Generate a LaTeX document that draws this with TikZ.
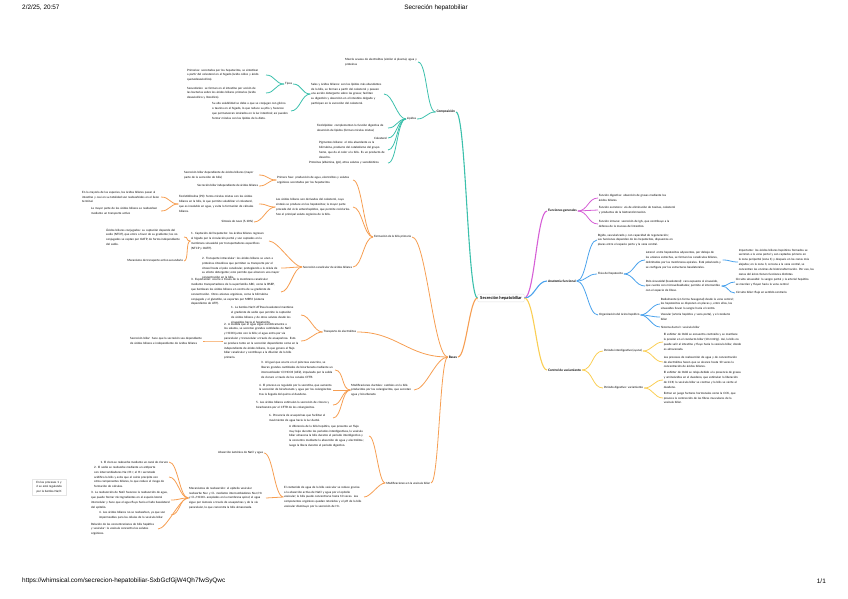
\documentclass[tikz,border=0pt]{standalone}
\usepackage{fontspec}
\setmainfont{Lato}
\newfontfamily\hdrfont{Liberation Sans}
\usetikzlibrary{calc}
\hyphenpenalty=10000
\exhyphenpenalty=10000
\definecolor{cTeal}{RGB}{60,192,172}
\definecolor{cOra}{RGB}{246,158,82}
\definecolor{cMag}{RGB}{214,96,214}
\definecolor{cBlu}{RGB}{74,162,236}
\definecolor{cYel}{RGB}{250,206,84}
\newcommand\lk[4][8]{\draw[#2] (#3.west) .. controls ($(#3.west)+(-#1,0)$) and ($(#4.east)+(#1,0)$) .. (#4.east);}
\newcommand\rk[4][8]{\draw[#2] (#3.east) .. controls ($(#3.east)+(#1,0)$) and ($(#4.west)+(-#1,0)$) .. (#4.west);}
\tikzset{
  tx/.style={font={\fontsize{2.9}{4.8}\selectfont}, align=left, text width=#1, inner sep=0.6pt},
  lb/.style={font={\fontsize{2.9}{4}\selectfont}, inner sep=0.8pt},
  lone/.style={font={\bfseries\fontsize{3.2}{4}\selectfont}, inner sep=0.8pt},
  ctr/.style={font={\bfseries\fontsize{4.2}{5}\selectfont}, draw=black!12, fill=white, rounded corners=1pt, inner xsep=2.5pt, inner ysep=2pt},
  hdr/.style={font={\hdrfont\fontsize{6.4}{7.5}\selectfont}, inner sep=0pt},
  note/.style={font={\fontsize{2.9}{4.8}\selectfont}, align=center, text width=#1, draw=black!10, inner sep=2pt},
  lnT/.style={cTeal, line width=0.8pt},
  lnO/.style={cOra, line width=0.8pt},
  lnM/.style={cMag, line width=0.8pt},
  lnB/.style={cBlu, line width=0.8pt},
  lnY/.style={cYel, line width=0.8pt},
  main/.style={line width=1.1pt}
}
\begin{document}
\begin{tikzpicture}[x=1pt,y=-1pt]
\useasboundingbox (0,0) rectangle (848,599);
% header / footer
\node[hdr, anchor=west] (hdate) at (22,8) {2/2/25, 20:57};
\node[hdr] (htitle) at (436,8) {Secreción hepatobiliar};
\node[hdr, anchor=west] (furl) at (22,581) {https://whimsical.com/secrecion-hepatobiliar-SxbGcfGjW4Qh7fwSyQwc};
\node[hdr, anchor=east] (fpage) at (826,581) {1/1};

% center
\node[ctr] (cen) at (501,298) {Secreción hepatobiliar};

% ---------- Composicion (teal)
\node[lone, anchor=east] (comp) at (456,112) {Composición};
\node[tx=72pt, anchor=east] (mez) at (418,62) {Mezcla acuosa de electrolitos (similar al plasma), agua y proteínas};
\node[lb, anchor=east] (lip) at (417,119) {Lípidos};
\node[tx=72pt, anchor=east] (sal) at (384,94) {Sales y ácidos biliares: son los lípidos más abundantes de la bilis, se forman a partir del colesterol y poseen una acción detergente sobre las grasas; facilitan su digestión y absorción en el intestino delgado y participan en la excreción del colesterol.};
\node[lb, anchor=east] (tip) at (293,84) {Tipos};
\node[tx=78pt, anchor=east] (pri) at (266,75) {Primarios: secretados por los hepatocitos, se sintetizan a partir del colesterol en el hígado (ácido cólico y ácido quenodesoxicólico).};
\node[tx=78pt, anchor=east] (secu) at (266,93) {Secundarios: se forman en el intestino por acción de las bacterias sobre los ácidos biliares primarios (ácido desoxicólico y litocólico).};
\node[tx=78pt, anchor=east] (sua) at (291,111) {Su alta solubilidad se debe a que se conjugan con glicina o taurina en el hígado, lo que reduce su pKa y favorece que permanezcan ionizados en la luz intestinal; así pueden formar micelas con los lípidos de la dieta.};
\node[tx=70pt, anchor=east] (fos) at (388,128) {Fosfolípidos: complementan la función digestiva de absorción de lípidos (forman micelas mixtas)};
\node[lb, anchor=east] (col) at (388,138) {Colesterol};
\node[tx=68pt, anchor=east] (pig) at (388,150) {Pigmentos biliares: el más abundante es la bilirrubina, producto del catabolismo del grupo hemo, que da el color a la bilis. Es un producto de desecho.};
\node[tx=78pt, anchor=east] (pro) at (388,163) {Proteínas (albúmina, IgA), otros solutos y xenobióticos};

\lk[10]{lnT,main}{cen}{comp}
\lk[9]{lnT}{comp}{mez}
\lk[9]{lnT}{comp}{lip}
\lk[9]{lnT}{lip}{sal}
\lk[9]{lnT}{lip}{fos}
\lk[9]{lnT}{lip}{col}
\lk[9]{lnT}{lip}{pig}
\lk[9]{lnT}{lip}{pro}
\lk[9]{lnT}{sal}{tip}
\lk[9]{lnT}{sal}{sua}
\lk[9]{lnT}{tip}{pri}
\lk[9]{lnT}{tip}{secu}

% ---------- Bases (orange)
\node[lone, anchor=east] (bas) at (458,357) {Bases};
\node[lb, anchor=east] (form) at (412,237) {Formación de la bilis primaria};
\node[tx=75pt, anchor=east] (pf) at (353,180) {Primera fase: producción de agua, electrolitos y solutos orgánicos secretados por los hepatocitos};
\node[tx=74pt, anchor=east] (sdep) at (259,175) {Secreción biliar dependiente de ácidos biliares (mayor parte de la secreción de bilis)};
\node[lb, anchor=east] (sind) at (259,186) {Secreción biliar independiente de ácidos biliares};
\node[tx=76pt, anchor=east] (lab) at (353,207) {Los ácidos biliares son derivados del colesterol, cuya síntesis se produce en los hepatocitos; la mayor parte procede del ciclo enterohepático, que permite reciclarlos. Son el principal soluto orgánico de la bilis.};
\node[tx=79pt, anchor=east] (fpc) at (259,204) {Fosfatidilcolina (PC): forma micelas mixtas con los ácidos biliares en la bilis, lo que permite solubilizar el colesterol, que es insoluble en agua, y evita la formación de cálculos biliares.};
\node[tx=78pt, anchor=east] (may) at (161,197) {En la mayoría de las especies, los ácidos biliares pasan al intestino y casi en su totalidad son reabsorbidos en el íleon terminal.};
\node[tx=69pt, anchor=east] (mpa) at (161,211) {La mayor parte de los ácidos biliares se reabsorben mediante un transporte activo};
\node[lb, anchor=east] (snov) at (254,222) {Síntesis de novo (5-10\%)};
\node[lb, anchor=east] (scan) at (353,267) {Secreción canalicular de ácidos biliares};
\node[tx=77pt, anchor=east] (ca1) at (269,241) {1. Captación del hepatocito: los ácidos biliares regresan al hígado por la circulación portal y son captados en la membrana sinusoidal por transportadores específicos (NTCP y OATP).};
\node[tx=77pt, anchor=east] (aci) at (184,237) {Ácidos biliares conjugados: su captación depende del sodio (NTCP), que entra a favor de su gradiente; los no conjugados se captan por OATP, de forma independiente del sodio.};
\node[lb, anchor=east] (mec) at (184,261) {Mecanismo de transporte activo secundario};
\node[tx=78pt, anchor=east] (ca2) at (281,268) {2. Transporte intracelular: los ácidos biliares se unen a proteínas citosólicas que permiten su transporte por el citosol hasta el polo canalicular, protegiendo a la célula de su efecto detergente; esto permite que alcancen una mayor concentración en la bilis.};
\node[tx=89pt, anchor=east] (ca3) at (281,292) {3. Exportación: ocurre a través de la membrana canalicular mediante transportadores de la superfamilia ABC, como la BSEP, que bombean los ácidos biliares en contra de su gradiente de concentración. Otros aniones orgánicos, como la bilirrubina conjugada y el glutatión, se exportan por MRP2 (sistema dependiente de ATP).};
\node[lb, anchor=east] (tra) at (357,332) {Transporte de electrolitos};
\node[tx=69pt, anchor=east] (bo1) at (301,315) {1. La bomba Na/K ATPasa basolateral mantiene el gradiente de sodio que permite la captación de ácidos biliares y de otros solutos desde los sinusoides hacia el hepatocito.};
\node[tx=76pt, anchor=east] (bo2) at (301,341) {2. A medida que el agua sigue osmóticamente a los solutos, se secretan grandes cantidades de NaCl y HCO3 junto con la bilis; el agua entra por vía paracelular y transcelular a través de acuaporinas. Esto se produce tanto en la secreción dependiente como en la independiente de ácidos biliares, lo que genera el flujo biliar canalicular y contribuye a la dilución de la bilis primaria.};
\node[tx=72pt, anchor=east] (sos) at (203,341) {Secreción biliar: hace que la secreción sea dependiente de ácidos biliares e independiente de ácidos biliares};
\node[tx=62pt, anchor=east] (mdu) at (414,390) {Modificaciones ductales: cambios en la bilis producidos por los colangiocitos, que secretan agua y bicarbonato};
\node[tx=73pt, anchor=east] (du3) at (335,370) {3. Al igual que ocurre en el páncreas exocrino, se liberan grandes cantidades de bicarbonato mediante un intercambiador Cl/HCO3 (AE2), impulsado por la salida de cloruro a través de los canales CFTR.};
\node[tx=73pt, anchor=east] (du4) at (333,390) {4. El proceso es regulado por la secretina, que aumenta la secreción de bicarbonato y agua por los colangiocitos tras la llegada del quimo al duodeno.};
\node[tx=76pt, anchor=east] (du5) at (333,405) {5. Los ácidos biliares estimulan la secreción de cloruro y bicarbonato por el CFTR de los colangiocitos.};
\node[tx=63pt, anchor=east] (du6) at (333,418) {6. Presencia de acuaporinas que facilitan el movimiento de agua hacia la luz ductal.};
\node[lb, anchor=east] (mve) at (431,483) {Modificaciones en la vesícula biliar};
\node[tx=79pt, anchor=east] (adi) at (369,436) {A diferencia de la bilis hepática, que presenta un flujo muy bajo durante los periodos interdigestivos, la vesícula biliar almacena la bilis durante el periodo interdigestivo y la concentra mediante la absorción de agua y electrolitos; luego la libera durante el periodo digestivo.};
\node[tx=79pt, anchor=east] (eco) at (364,497) {El contenido de agua de la bilis vesicular se reduce gracias a la absorción activa de NaCl y agua por el epitelio vesicular; la bilis puede concentrarse hasta 10 veces. Los componentes orgánicos quedan retenidos y el pH de la bilis vesicular disminuye por la secreción de H+.};
\node[lb, anchor=east] (abso) at (264,453) {Absorción isotónica de NaCl y agua};
\node[tx=76pt, anchor=east] (mrs) at (266,498) {Mecanismos de reabsorción: el epitelio vesicular reabsorbe Na+ y Cl- mediante intercambiadores Na+/H+ y Cl-/HCO3- acoplados en la membrana apical; el agua sigue por ósmosis a través de acuaporinas y de la vía paracelular, lo que concentra la bilis almacenada.};
\node[lb, anchor=east] (mr1) at (169,462) {1. El cloro se reabsorbe mediante un canal de cloruro};
\node[tx=74pt, anchor=east] (mr2) at (169,477) {2. El sodio se reabsorbe mediante un antiporte con intercambiadores Na+/H+; el H+ secretado acidifica la bilis y evita que el calcio precipite con otros componentes biliares, lo que reduce el riesgo de formación de cálculos.};
\node[tx=79pt, anchor=east] (mr3) at (171,500) {3. La reabsorción de NaCl favorece la reabsorción de agua, que puede formar microgradientes en el espacio lateral intercelular y hace que el agua fluya hacia el lado basolateral del epitelio.};
\node[tx=71pt, anchor=east] (mr4) at (171,515) {4. Los ácidos biliares no se reabsorben, ya que son impermeables para las células de la vesícula biliar.};
\node[tx=66pt, anchor=east] (mr5) at (158,529) {Relación de las concentraciones de bilis hepática y vesicular: la vesícula concentra los solutos orgánicos.};
\node[note=30pt] (nota) at (49,487) {En los procesos 1 y 2 se está regulando por la bomba Na/K};

\lk[8]{lnO,main}{cen}{bas}
\lk[14]{lnO}{bas}{form}
\lk[40]{lnO}{bas}{tra}
\lk[12]{lnO}{bas}{mdu}
\lk[8]{lnO}{bas}{mve}
\lk[9]{lnO}{form}{pf}
\lk[9]{lnO}{form}{lab}
\lk[9]{lnO}{form}{scan}
\lk[9]{lnO}{pf}{sdep}
\lk[9]{lnO}{pf}{sind}
\lk[9]{lnO}{lab}{fpc}
\lk[9]{lnO}{lab}{snov}
\lk[9]{lnO}{fpc}{may}
\lk[9]{lnO}{fpc}{mpa}
\lk[9]{lnO}{scan}{ca1}
\lk[9]{lnO}{scan}{ca2}
\lk[9]{lnO}{scan}{ca3}
\lk[5]{lnO}{ca1}{aci}
\lk[5]{lnO}{ca1}{mec}
\lk[9]{lnO}{tra}{bo1}
\lk[9]{lnO}{tra}{bo2}
\lk[9]{lnO}{bo2}{sos}
\lk[9]{lnO}{mdu}{du3}
\lk[9]{lnO}{mdu}{du4}
\lk[9]{lnO}{mdu}{du5}
\lk[9]{lnO}{mdu}{du6}
\lk[7]{lnO}{mve}{adi}
\lk[7]{lnO}{mve}{eco}
\lk[9]{lnO}{eco}{abso}
\lk[9]{lnO}{eco}{mrs}
\lk[9]{lnO}{mrs}{mr1}
\lk[9]{lnO}{mrs}{mr2}
\lk[9]{lnO}{mrs}{mr3}
\lk[9]{lnO}{mrs}{mr4}
\lk[9]{lnO}{mrs}{mr5}

% ---------- right side
\node[lone, anchor=west] (fun) at (547,211) {Funciones generales};
\node[tx=75pt, anchor=west] (fu1) at (598,198) {Función digestiva: absorción de grasas mediante los ácidos biliares.};
\node[tx=77pt, anchor=west] (fu2) at (598,210) {Función excretora: vía de eliminación de toxinas, colesterol y productos de la biotransformación.};
\node[tx=75pt, anchor=west] (fu3) at (598,224) {Función inmune: secreción de IgA, que contribuye a la defensa de la mucosa del intestino.};
\rk[10]{lnM,main}{cen}{fun}
\rk[10]{lnM}{fun}{fu1}
\rk[10]{lnM}{fun}{fu2}
\rk[10]{lnM}{fun}{fu3}

\node[lone, anchor=west] (ana) at (547,281) {Anatomía funcional};
\node[tx=78pt, anchor=west] (an1) at (597,240) {Rígido, vascularizado y con capacidad de regeneración; sus funciones dependen de los hepatocitos, dispuestos en placas entre el espacio porta y la vena central.};
\node[lb, anchor=west] (fis) at (597,274) {Fisio del hepatocito};
\node[tx=76pt, anchor=west] (lat) at (645,260) {Lateral: entre hepatocitos adyacentes, por debajo de las uniones estrechas, se forman los canalículos biliares, delimitados por las membranas apicales. Está polarizado y se configura por las estructuras basolaterales.};
\node[tx=77pt, anchor=west] (imp) at (738,262) {Importante: los ácidos biliares hepáticos formados se secretan a la vena portal y son captados primero en la zona periportal (zona 1) y después en las zonas más alejadas; en la zona 3, cercana a la vena central, se concentran las enzimas de biotransformación. Por eso, las zonas del ácino tienen funciones distintas.};
\node[tx=75pt, anchor=west] (pol) at (645,286) {Polo sinusoidal (basolateral): cara expuesta al sinusoide, que cuenta con microvellosidades; permite el intercambio con el espacio de Disse.};
\node[tx=73pt, anchor=west] (ci1) at (735,282) {Circuito sinusoidal: la sangre portal y la arterial hepática se mezclan y fluyen hacia la vena central};
\node[lb, anchor=west] (ci2) at (735,293) {Circuito biliar: flujo en sentido contrario};
\node[lb, anchor=west] (org) at (598,315) {Organización del ácino hepático};
\node[tx=78pt, anchor=west] (rad) at (660,304) {Radialmente (en forma hexagonal) desde la vena central; los hepatocitos se disponen en placas y, entre ellos, los sinusoides llevan la sangre hacia el centro.};
\node[tx=72pt, anchor=west] (vas) at (660,317) {Vascular (arteria hepática y vena porta), y el conducto biliar};
\node[lb, anchor=west] (sis) at (660,327) {Sistema ductal + vesícula biliar};
\rk[10]{lnB,main}{cen}{ana}
\rk[10]{lnB}{ana}{an1}
\rk[10]{lnB}{ana}{fis}
\rk[10]{lnB}{ana}{org}
\rk[10]{lnB}{fis}{lat}
\rk[10]{lnB}{fis}{pol}
\rk[8]{lnB}{lat}{imp}
\rk[7]{lnB}{pol}{ci1}
\rk[7]{lnB}{pol}{ci2}
\rk[8]{lnB}{org}{rad}
\rk[8]{lnB}{org}{vas}
\rk[8]{lnB}{org}{sis}

\node[lone, anchor=west] (con) at (547,370) {Control de vaciamiento};
\node[lb, anchor=west] (pin) at (603,351) {Periodo interdigestivo (ayuno)};
\node[tx=78pt, anchor=west] (ei1) at (663,342) {El esfínter de Oddi se encuentra contraído y se mantiene la presión en el conducto biliar (10 mmHg). Así, la bilis no puede salir al intestino y fluye hacia la vesícula biliar, donde es almacenada.};
\node[tx=78pt, anchor=west] (ei2) at (663,362) {Los procesos de reabsorción de agua y de concentración de electrolitos hacen que se alcance hasta 10 veces la concentración de ácidos biliares.};
\node[lb, anchor=west] (pdi) at (603,388) {Periodo digestivo: vaciamiento};
\node[tx=78pt, anchor=west] (ed1) at (663,380) {El esfínter de Oddi se relaja debido a la presencia de grasas y aminoácidos en el duodeno, que estimulan la liberación de CCK; la vesícula biliar se contrae y la bilis se vierte al duodeno.};
\node[tx=75pt, anchor=west] (ed2) at (663,398) {Entran en juego factores hormonales como la CCK, que provoca la contracción de las fibras musculares de la vesícula biliar.};
\rk[10]{lnY,main}{cen}{con}
\rk[11]{lnY}{con}{pin}
\rk[11]{lnY}{con}{pdi}
\rk[9]{lnY}{pin}{ei1}
\rk[9]{lnY}{pin}{ei2}
\rk[9]{lnY}{pdi}{ed1}
\rk[9]{lnY}{pdi}{ed2}
\end{tikzpicture}
\end{document}
